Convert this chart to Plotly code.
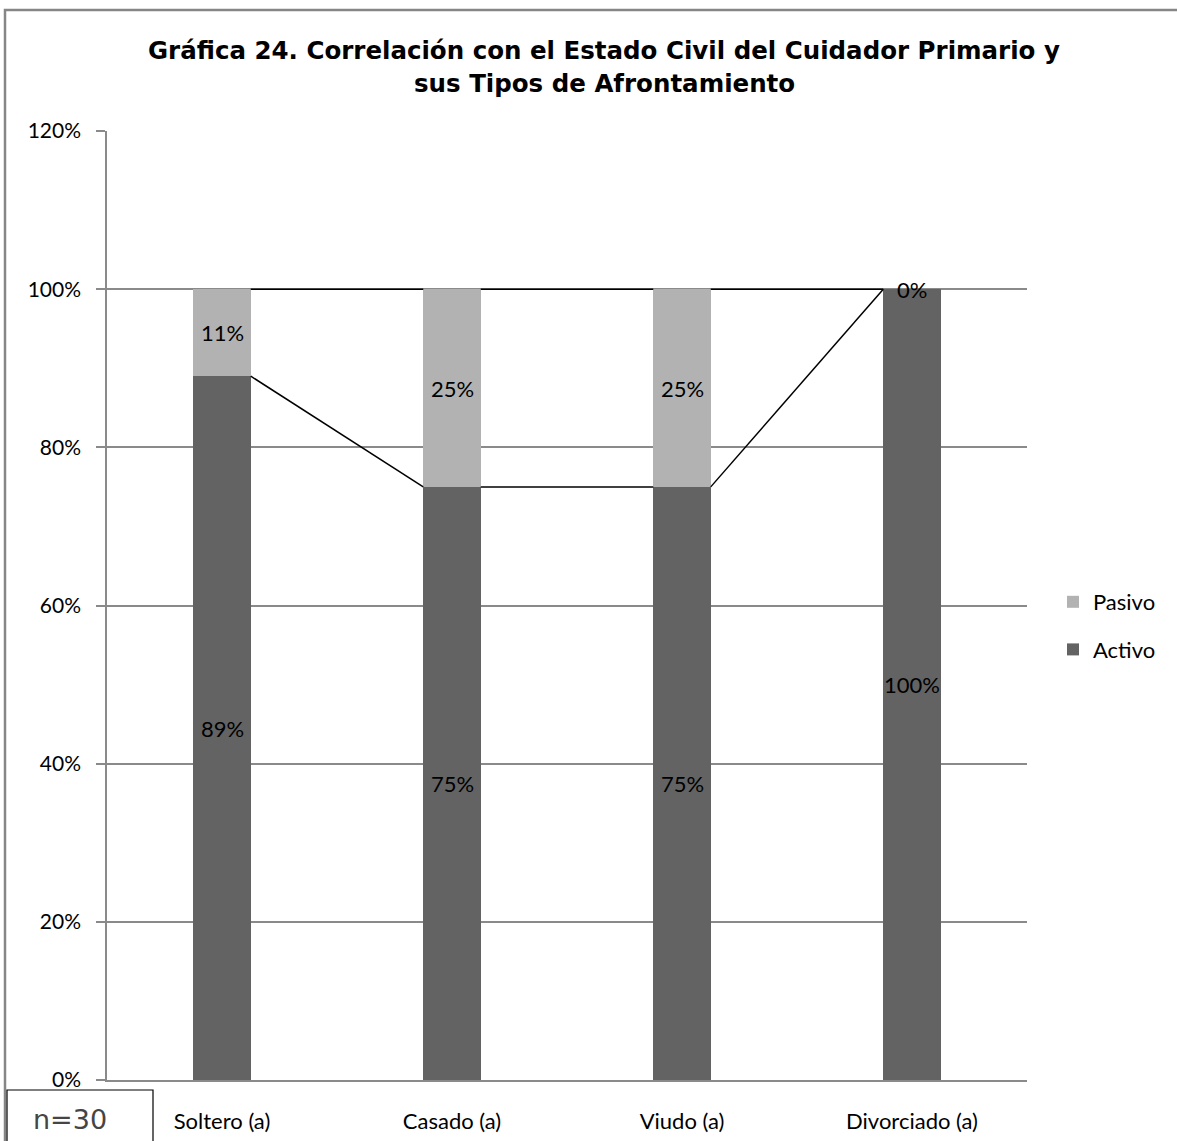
import plotly.graph_objects as go

categories = ["Soltero (a)", "Casado (a)", "Viudo (a)", "Divorciado (a)"]
activo = [89, 75, 75, 100]
pasivo = [11, 25, 25, 0]
y_ticks = [0, 20, 40, 60, 80, 100, 120]

W, H = 1177, 1141
ML, MR, MT, MB = 107, 150, 131, 61
PW, PH = W - ML - MR, H - MT - MB


def px_x(p):
    return (p - ML) / PW


def px_y(p):
    return (H - MB - p) / PH


C_ACT = "#636363"
C_PAS = "#b2b2b2"
GRID = "#8a8a8a"
BODY = "Lato, 'Open Sans', sans-serif"
BW = 0.25

xs = list(range(len(categories)))
fig = go.Figure()
fig.add_trace(go.Bar(x=xs, y=activo, name="Activo", marker=dict(color=C_ACT, line=dict(width=0)),
                     width=BW, legendgroup="a", legendrank=2))
fig.add_trace(go.Bar(x=xs, y=pasivo, name="Pasivo", marker=dict(color=C_PAS, line=dict(width=0)),
                     width=BW, legendgroup="p", legendrank=1))

# series lines
tops_a = activo
tops_p = [a + p for a, p in zip(activo, pasivo)]
for tops in (tops_a, tops_p):
    for i in range(len(categories) - 1):
        fig.add_trace(go.Scatter(x=[i + BW / 2, i + 1 - BW / 2], y=[tops[i], tops[i + 1]],
                                 mode="lines", line=dict(color="black", width=1.5),
                                 showlegend=False, hoverinfo="skip"))

LBL = dict(family=BODY, size=22, color="black")
annotations = []
for i in xs:
    annotations.append(dict(x=i, y=activo[i] / 2, xref="x", yref="y", text=f"{activo[i]}%",
                            showarrow=False, font=LBL))
    annotations.append(dict(x=i, y=activo[i] + pasivo[i] / 2, xref="x", yref="y", text=f"{pasivo[i]}%",
                            showarrow=False, font=LBL))

TFONT = dict(family="DejaVu Sans, sans-serif", size=24.5, color="black")
annotations.append(dict(x=px_x(604), y=px_y(51), xref="paper", yref="paper",
                        text="<b>Gráfica 24. Correlación con el Estado Civil del Cuidador Primario y</b>",
                        showarrow=False, xanchor="center", yanchor="middle", font=TFONT))
annotations.append(dict(x=px_x(604), y=px_y(84), xref="paper", yref="paper",
                        text="<b>sus Tipos de Afrontamiento</b>",
                        showarrow=False, xanchor="center", yanchor="middle", font=TFONT))
annotations.append(dict(x=px_x(70), y=px_y(1119), xref="paper", yref="paper", text="n=30",
                        showarrow=False, xanchor="center", yanchor="middle",
                        font=dict(family="DejaVu Sans, sans-serif", size=27, color="#454545")))

shapes = [
    dict(type="rect", xref="paper", yref="paper", x0=px_x(5), x1=px_x(1200), y0=px_y(1200), y1=px_y(10),
         line=dict(color="#868686", width=2.5), fillcolor="rgba(0,0,0,0)", layer="below"),
    dict(type="rect", xref="paper", yref="paper", x0=px_x(7), x1=px_x(153), y0=px_y(1170), y1=px_y(1090),
         line=dict(color="black", width=1.2), fillcolor="white", layer="above"),
]

fig.update_layout(
    width=W, height=H,
    margin=dict(l=ML, r=MR, t=MT, b=MB, autoexpand=False),
    paper_bgcolor="white", plot_bgcolor="white",
    barmode="stack",
    bargap=0,
    showlegend=True,
    legend=dict(x=px_x(1053), y=px_y(626), xanchor="left", yanchor="middle",
                traceorder="grouped", tracegroupgap=16,
                font=dict(family=BODY, size=22, color="black"), bgcolor="rgba(0,0,0,0)",
                itemwidth=30),
    annotations=annotations,
    shapes=shapes,
    xaxis=dict(range=[-0.5, len(categories) - 0.5], tickvals=xs, ticktext=categories,
               showgrid=False, zeroline=False, showline=True, linecolor=GRID, linewidth=1.5,
               ticks="", ticklabelstandoff=21,
               tickfont=dict(family=BODY, size=22, color="black")),
    yaxis=dict(range=[0, 120], tickvals=y_ticks, ticktext=[f"{v}%" for v in y_ticks],
               showgrid=True, gridcolor=GRID, gridwidth=1.5, zeroline=False,
               showline=True, linecolor=GRID, linewidth=1.5,
               ticks="outside", ticklen=9, tickcolor=GRID, tickwidth=1.5,
               ticklabelstandoff=11,
               tickfont=dict(family=BODY, size=21, color="black")),
)

fig.write_html("out.html", config={"displayModeBar": False},
               post_script="document.body.style.margin='0px';document.body.style.overflow='hidden';")
